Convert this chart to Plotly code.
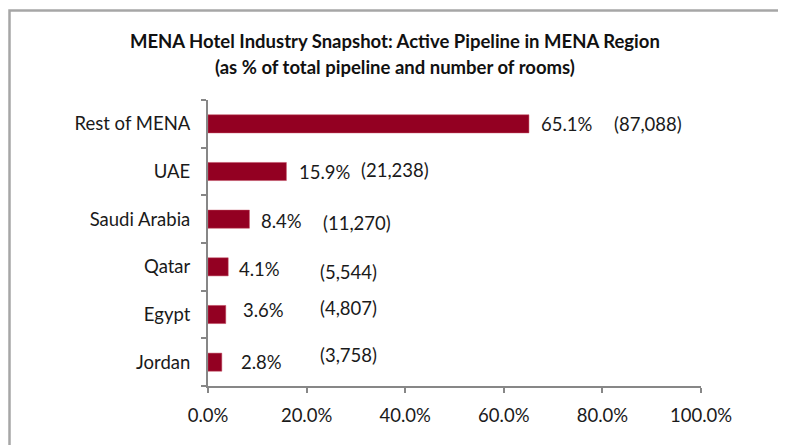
import plotly.graph_objects as go

categories = ["Rest of MENA", "UAE", "Saudi Arabia", "Qatar", "Egypt", "Jordan"]
share_pct = [65.1, 15.9, 8.4, 4.1, 3.6, 2.8]
rooms = ["(87,088)", "(21,238)", "(11,270)", "(5,544)", "(4,807)", "(3,758)"]
pct_labels = ["65.1%", "15.9%", "8.4%", "4.1%", "3.6%", "2.8%"]
x_ticks = [0, 20, 40, 60, 80, 100]
x_tick_labels = ["0.0%", "20.0%", "40.0%", "60.0%", "80.0%", "100.0%"]
title_lines = ["MENA Hotel Industry Snapshot: Active Pipeline in MENA Region",
               "(as % of total pipeline and number of rooms)"]

# label placement (data x of label centre, vertical pixel shift)
pct_label_x = [72.8, 23.7, 15.0, 10.5, 11.2, 10.8]
pct_label_dy = [0, 0, -2, -2, 5, 0]
room_label_x = [89.2, 37.9, 30.2, 28.4, 28.4, 28.4]
room_label_dy = [0, 2, -4, -5, 7, 7]

FONT = "Lato, 'Open Sans', sans-serif"
FS = 18.5
BAR = "#930022"
AXIS = "#878787"
TXT = "#1a1a1a"

# page body has an 8px margin; figure sized to fit the window
W, H = 778, 437
L, R, T, B = 200, 85, 92, 59
pw, ph = W - L - R, H - T - B

def px2paper_x(px):
    return (px - L) / pw

def py2paper_y(py):
    return (H - B - py) / ph

fig = go.Figure(go.Bar(
    x=share_pct, y=categories, orientation="h",
    marker=dict(color=BAR, line=dict(color="#c0485f", width=0.5)),
    width=0.38, hoverinfo="skip",
))

ann = []
for c, p, px, pdy, r, rx, rdy in zip(categories, pct_labels, pct_label_x, pct_label_dy,
                                       rooms, room_label_x, room_label_dy):
    ann.append(dict(x=px, y=c, text=p, showarrow=False, xref="x", yref="y",
                    xanchor="center", yanchor="middle", yshift=pdy,
                    font=dict(family=FONT, size=FS, color=TXT)))
    ann.append(dict(x=rx, y=c, text=r, showarrow=False, xref="x", yref="y",
                    xanchor="center", yanchor="middle", yshift=rdy,
                    font=dict(family=FONT, size=FS, color=TXT)))

for line, cy in zip(title_lines, [33, 59]):
    ann.append(dict(x=px2paper_x(387), y=py2paper_y(cy), xref="paper", yref="paper",
                    showarrow=False, xanchor="center", yanchor="middle",
                    text="<b>" + line + "</b>",
                    font=dict(family=FONT, size=18.5, color="#111111")))

fig.update_layout(
    width=W, height=H,
    margin=dict(l=L, r=R, t=T, b=B, pad=0),
    paper_bgcolor="white", plot_bgcolor="white",
    showlegend=False,
    annotations=ann,
    shapes=[dict(type="rect", xref="paper", yref="paper",
                 x0=px2paper_x(1.5), x1=px2paper_x(800),
                 y0=py2paper_y(460), y1=py2paper_y(2.5),
                 line=dict(color="#a6a6a6", width=2.5), fillcolor="rgba(0,0,0,0)",
                 layer="below")],
    xaxis=dict(range=[0, 100], tickvals=x_ticks, ticktext=x_tick_labels,
               showgrid=False, zeroline=False, showline=True, linecolor=AXIS,
               linewidth=2, ticks="outside", ticklen=5, tickwidth=2, tickcolor=AXIS,
               ticklabelstandoff=7,
               tickfont=dict(family=FONT, size=FS, color=TXT), fixedrange=True),
    yaxis=dict(categoryorder="array", categoryarray=categories[::-1],
               autorange=True, showgrid=False, zeroline=False, showline=True,
               linecolor=AXIS, linewidth=2, ticks="outside", ticklen=5, tickwidth=2,
               tickcolor=AXIS, tickson="boundaries", ticklabelstandoff=12,
               tickfont=dict(family=FONT, size=FS, color=TXT), fixedrange=True),
)

fig.write_html("out.html")
